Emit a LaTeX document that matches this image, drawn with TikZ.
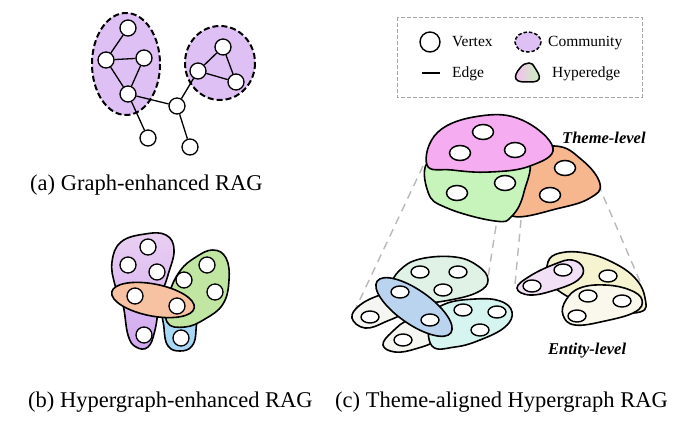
\documentclass[tikz,border=0pt]{standalone}
\usepackage{fontspec}
\setmainfont{Liberation Serif}
\usetikzlibrary{shapes.geometric}
\definecolor{commfill}{RGB}{222,192,244}
\definecolor{thpink}{RGB}{246,172,240}
\definecolor{thgreen}{RGB}{198,244,186}
\definecolor{thorange}{RGB}{246,182,142}
\definecolor{bpurpleA}{RGB}{234,208,242}
\definecolor{bpurpleB}{RGB}{208,168,240}
\definecolor{bgreen}{RGB}{192,230,162}
\definecolor{borange}{RGB}{246,194,162}
\definecolor{bcyan}{RGB}{168,216,246}
\definecolor{emint}{RGB}{224,242,230}
\definecolor{eblue}{RGB}{186,212,240}
\definecolor{ecyan}{RGB}{214,244,240}
\definecolor{ewhite}{RGB}{245,245,242}
\definecolor{elav}{RGB}{242,224,246}
\definecolor{eyellow}{RGB}{246,244,208}
\definecolor{ecream}{RGB}{250,248,236}
\definecolor{guidegray}{RGB}{185,185,185}
\begin{document}
\begin{tikzpicture}[x=1pt,y=-1pt,
  vtx/.style={circle,draw,fill=white,line width=1.3pt,minimum size=16pt,inner sep=0pt},
  tvtx/.style={ellipse,draw,fill=white,line width=1.5pt,minimum width=21pt,minimum height=15pt,inner sep=0pt},
  evtx/.style={ellipse,draw,fill=white,line width=1.4pt,minimum width=18pt,minimum height=12pt,inner sep=0pt},
  edgeln/.style={line width=1.3pt},
  comm/.style={draw,line width=2pt,fill=commfill,dash pattern=on 6pt off 3pt},
  blob/.style={draw,line width=1.6pt},
  guide/.style={draw=guidegray,line width=1.4pt,dash pattern=on 8pt off 6pt},
  captxt/.style={font=\fontsize{22.5}{26}\selectfont,inner sep=0pt,anchor=base west},
  legtxt/.style={font=\fontsize{15.5}{18}\selectfont,inner sep=0pt,anchor=base west},
  lvltxt/.style={font=\fontsize{16.5}{19}\selectfont\bfseries\itshape,inner sep=0pt,anchor=base west}]
\useasboundingbox (0,0) rectangle (700,430);
\fill[white] (0,0) rectangle (700,430);

% ---------------- (a) Graph-enhanced RAG ----------------
\draw[comm] (126,64) ellipse [x radius=34, y radius=51];
\draw[comm] (220,63) ellipse [x radius=35, y radius=37];
\node[vtx] (a1) at (128,28) {};
\node[vtx] (a2) at (106,60) {};
\node[vtx] (a3) at (144,58) {};
\node[vtx] (a4) at (128,94) {};
\node[vtx] (a5) at (177,106) {};
\node[vtx] (a6) at (148,138) {};
\node[vtx] (a7) at (190,147) {};
\node[vtx] (r1) at (223,47) {};
\node[vtx] (r2) at (198,71) {};
\node[vtx] (r3) at (236,82) {};
\draw[edgeln] (a1)--(a2) (a2)--(a3) (a2)--(a4) (a3)--(a4) (a4)--(a5) (a4)--(a6)
  (a5)--(r2) (a5)--(a7) (r2)--(r1) (r1)--(r3) (r2)--(r3);
\node[captxt] (capa) at (30,190) {(a) Graph-enhanced RAG};

% ---------------- Legend ----------------
\draw[draw=gray!70,line width=0.9pt,dash pattern=on 4pt off 2pt] (397,17) rectangle (642,97);
\node[circle,draw,fill=white,line width=1.4pt,minimum size=20pt,inner sep=0pt] (lv) at (430,42) {};
\node[legtxt] (lvt) at (452,47) {Vertex};
\draw[fill=commfill,line width=1.5pt,dash pattern=on 3.5pt off 2pt] (528,42) ellipse [x radius=13, y radius=10];
\node[legtxt] (lct) at (548,47) {Community};
\coordinate (le1) at (422,73);
\coordinate (le2) at (440,73);
\draw[line width=1.5pt] (le1)--(le2);
\node[legtxt] (let) at (452,78) {Edge};
\shade[left color=thpink!80,right color=thgreen,draw=black,line width=1.5pt]
  plot[smooth cycle,tension=0.8] coordinates {(516,79) (520,68) (529,63) (535,68) (539,79) (528,82)};
\node[legtxt] (lht) at (552,78) {Hyperedge};

% ---------------- (b) Hypergraph-enhanced RAG ----------------
\shade[top color=bpurpleA,bottom color=bpurpleB,draw=black,line width=1.6pt]
  plot[smooth cycle,tension=0.7] coordinates {(112,262) (121,242) (145,234) (166,235) (174,250) (168,275) (160,300) (155,330) (148,347) (136,347) (128,335) (123,305) (115,285)};
\draw[blob,fill=bcyan] plot[smooth cycle,tension=0.7] coordinates {(165,306) (194,304) (196,330) (192,346) (180,351) (168,346) (164,328)};
\draw[blob,fill=bgreen] plot[smooth cycle,tension=0.7] coordinates {(167,322) (169,295) (180,271) (196,257) (213,250) (226,258) (229,280) (223,304) (205,319) (185,327)};
\draw[blob,fill=borange,rotate around={-11:(153,300)}] (153,300) ellipse [x radius=42, y radius=16];
\node[vtx] (b1) at (148,247) {};
\node[vtx] (b2) at (128,265) {};
\node[vtx] (b3) at (157,272) {};
\node[vtx] (b4) at (144,335) {};
\node[vtx] (b5) at (184,280) {};
\node[vtx] (b6) at (207,265) {};
\node[vtx] (b7) at (215,292) {};
\node[vtx] (b8) at (181,338) {};
\node[vtx] (b9) at (135,296) {};
\node[vtx] (b10) at (177,306) {};
\node[captxt] (capb) at (28,407) {(b) Hypergraph-enhanced RAG};

% ---------------- (c) guide lines ----------------
\coordinate (g1a) at (423,166); \coordinate (g1b) at (355,310);
\coordinate (g2a) at (496,226); \coordinate (g2b) at (487,284);
\coordinate (g3a) at (521,220); \coordinate (g3b) at (515,284);
\coordinate (g4a) at (598,184); \coordinate (g4b) at (642,286);
\draw[guide] (g1a)--(g1b);
\draw[guide] (g2a)--(g2b);
\draw[guide] (g3a)--(g3b);
\draw[guide] (g4a)--(g4b);

% ---------------- Theme-level ----------------
\draw[blob,fill=thorange] plot[smooth cycle,tension=0.7] coordinates {(505,160) (553,146) (582,160) (600,184) (590,198) (560,208) (512,216) (505,190)};
\draw[blob,fill=thgreen] plot[smooth cycle,tension=0.7] coordinates {(430,160) (475,160) (526,158) (524,192) (512,216) (495,221) (447,208) (428,192)};
\draw[blob,fill=thpink] plot[smooth cycle,tension=0.7] coordinates {(427,165) (438,132) (480,116) (522,120) (553,148) (530,166) (490,172) (452,170)};
\node[tvtx] (t1) at (483,132) {};
\node[tvtx] (t2) at (460,153) {};
\node[tvtx] (t3) at (515,150) {};
\node[tvtx] (t4) at (565,168) {};
\node[tvtx] (t5) at (505,183) {};
\node[tvtx] (t6) at (457,193) {};
\node[tvtx] (t7) at (550,195) {};
\node[lvltxt] (thl) at (562,144) {Theme-level};

% ---------------- Entity-level, left cluster ----------------
\draw[blob,fill=emint] plot[smooth cycle,tension=0.7] coordinates {(392,285) (400,270) (420,259) (455,257) (478,266) (488,280) (478,292) (450,300) (420,303) (400,298)};
\draw[blob,fill=ewhite] plot[smooth cycle,tension=0.7] coordinates {(352,318) (360,305) (380,295) (400,290) (405,310) (385,322) (365,328)};
\draw[blob,fill=ewhite] plot[smooth cycle,tension=0.7] coordinates {(383,345) (392,332) (410,320) (432,325) (435,340) (415,349) (395,352)};
\draw[blob,fill=ecyan] plot[smooth cycle,tension=0.7] coordinates {(430,318) (445,304) (475,299) (500,301) (512,312) (505,327) (480,340) (455,347) (432,346)};
\draw[blob,fill=eblue,rotate around={-35:(414,307)}] (414,307) ellipse [x radius=45, y radius=17];
\node[evtx] (e1) at (420,272) {};
\node[evtx] (e2) at (458,272) {};
\node[evtx] (e3) at (443,290) {};
\node[evtx] (e4) at (400,292) {};
\node[evtx] (e5) at (430,320) {};
\node[evtx] (e6) at (370,317) {};
\node[evtx] (e7) at (403,340) {};
\node[evtx] (e8) at (463,310) {};
\node[evtx] (e9) at (497,312) {};
\node[evtx] (e10) at (480,330) {};

% ---------------- Entity-level, right cluster ----------------
\draw[blob,fill=eyellow] plot[smooth cycle,tension=0.7] coordinates {(548,262) (560,253) (585,253) (612,262) (635,278) (645,298) (640,312) (600,310) (565,295) (550,280)};
\draw[blob,fill=elav] plot[smooth cycle,tension=0.7] coordinates {(517,288) (530,276) (555,264) (572,260) (583,268) (578,280) (555,290) (530,295)};
\draw[blob,fill=ecream] plot[smooth cycle,tension=0.7] coordinates {(563,315) (566,300) (580,288) (605,285) (630,290) (642,300) (635,312) (605,321) (575,325)};
\node[evtx] (f1) at (532,286) {};
\node[evtx] (f2) at (563,270) {};
\node[evtx] (f3) at (608,276) {};
\node[evtx] (f4) at (588,296) {};
\node[evtx] (f5) at (622,301) {};
\node[evtx] (f6) at (577,316) {};
\node[lvltxt] (enl) at (548,354) {Entity-level};

\node[captxt] (capc) at (335,407) {(c) Theme-aligned Hypergraph RAG};
\end{tikzpicture}
\end{document}
